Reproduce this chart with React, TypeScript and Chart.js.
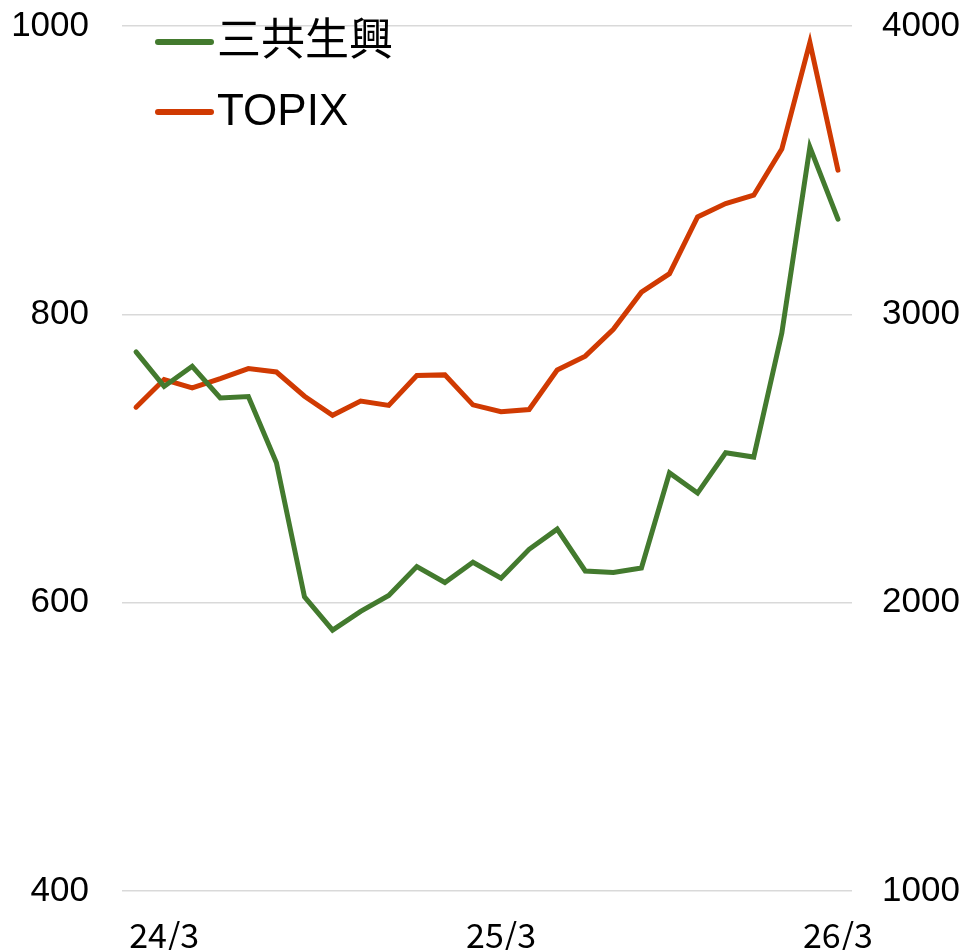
import React, { useEffect, useRef } from "react";
import { Chart, registerables } from "chart.js";

Chart.register(...registerables);

const categories: string[] = [
  "24/2", "24/3", "24/4", "24/5", "24/6", "24/7", "24/8", "24/9", "24/10", "24/11", "24/12", "25/1", "25/2",
  "25/3", "25/4", "25/5", "25/6", "25/7", "25/8", "25/9", "25/10", "25/11", "25/12", "26/1", "26/2", "26/3",
];
const shownLabels: string[] = ["24/3", "25/3", "26/3"];

const sankyoSeries: number[] = [
  774, 750, 764, 742, 743, 697, 604, 581, 594, 605, 625, 614, 628,
  617, 637, 651, 622, 621, 624, 690, 676, 704, 701, 787, 916, 866,
];
const topixSeries: number[] = [
  2678, 2774, 2745, 2777, 2812, 2800, 2716, 2650, 2699, 2684, 2788, 2790, 2686,
  2662, 2670, 2807, 2855, 2948, 3077, 3141, 3338, 3384, 3413, 3573, 3943, 3500,
];

const leftTicks: number[] = [400, 600, 800, 1000];
const rightTicks: number[] = [1000, 2000, 3000, 4000];

const GREEN = "#437A2E";
const ORANGE = "#D03A02";
const NUM_FONT = "'Liberation Sans', Arial, sans-serif";

const legendPlugin = {
  id: "insideLegend",
  afterDraw(chart: any) {
    const ctx = chart.ctx;
    ctx.save();
    chart.data.datasets.forEach((ds: any, i: number) => {
      const y = 42 + i * 70;
      ctx.strokeStyle = ds.borderColor;
      ctx.lineWidth = 6;
      ctx.lineCap = "round";
      ctx.beginPath();
      ctx.moveTo(158, y);
      ctx.lineTo(211, y);
      ctx.stroke();
      ctx.fillStyle = "#000";
      ctx.font = "44px 'Liberation Sans', 'Noto Sans CJK JP', sans-serif";
      ctx.textBaseline = "middle";
      ctx.textAlign = "left";
      ctx.fillText(ds.label, 217, y + 1);
    });
    ctx.restore();
  },
};

export default function App() {
  const ref = useRef<HTMLCanvasElement | null>(null);
  useEffect(() => {
    if (!ref.current) return;
    const fitV = (w: number) => (s: any) => {
      s.width = w;
      s.paddingTop = 0;
      s.paddingBottom = 0;
    };
    const chart = new Chart(ref.current, {
      type: "line",
      data: {
        labels: categories,
        datasets: [
          {
            label: "三共生興",
            data: sankyoSeries,
            borderColor: GREEN,
            backgroundColor: GREEN,
            borderWidth: 5,
            pointRadius: 0,
            borderCapStyle: "round",
            borderJoinStyle: "miter",
            tension: 0,
            yAxisID: "y",
          },
          {
            label: "TOPIX",
            data: topixSeries,
            borderColor: ORANGE,
            backgroundColor: ORANGE,
            borderWidth: 5,
            pointRadius: 0,
            borderCapStyle: "round",
            borderJoinStyle: "miter",
            tension: 0,
            yAxisID: "y1",
          },
        ],
      },
      options: {
        animation: false,
        responsive: false,
        maintainAspectRatio: false,
        layout: { padding: { top: 26, left: 0, right: 0, bottom: 0 } },
        plugins: {
          legend: { display: false },
          tooltip: { enabled: false },
        },
        scales: {
          x: {
            offset: true,
            grid: { display: false, drawTicks: false },
            border: { display: false },
            afterFit: (s: any) => {
              s.height = 59;
              s.paddingLeft = 0;
              s.paddingRight = 0;
            },
            ticks: {
              autoSkip: false,
              maxRotation: 0,
              minRotation: 0,
              padding: 24,
              color: "#000",
              font: { family: "'Noto Sans CJK JP', sans-serif", size: 34 },
              callback: function (this: any, _v: any, i: number) {
                const l = categories[i];
                return shownLabels.includes(l) ? l : "";
              },
            },
          },
          y: {
            position: "left",
            min: 400,
            max: 1000,
            afterBuildTicks: (s: any) => {
              s.ticks = leftTicks.map((v) => ({ value: v }));
            },
            afterFit: fitV(122),
            grid: { color: "#d9d9d9", lineWidth: 1.5, drawTicks: false },
            border: { display: false },
            ticks: {
              padding: 33,
              color: "#000",
              font: { family: NUM_FONT, size: 35 },
              callback: (v: any) => String(v),
            },
          },
          y1: {
            position: "right",
            min: 1000,
            max: 4000,
            afterBuildTicks: (s: any) => {
              s.ticks = rightTicks.map((v) => ({ value: v }));
            },
            afterFit: fitV(115),
            grid: { display: false, drawTicks: false },
            border: { display: false },
            ticks: {
              padding: 30,
              color: "#000",
              font: { family: NUM_FONT, size: 35 },
              callback: (v: any) => String(v),
            },
          },
        },
      },
      plugins: [legendPlugin],
    } as any);
    return () => chart.destroy();
  }, []);
  return (
    <div style={{ position: "absolute", left: 0, top: 0, width: 967, height: 950, background: "#fff" }}>
      <canvas ref={ref} width={967} height={950} style={{ width: 967, height: 950, display: "block" }} />
    </div>
  );
}
